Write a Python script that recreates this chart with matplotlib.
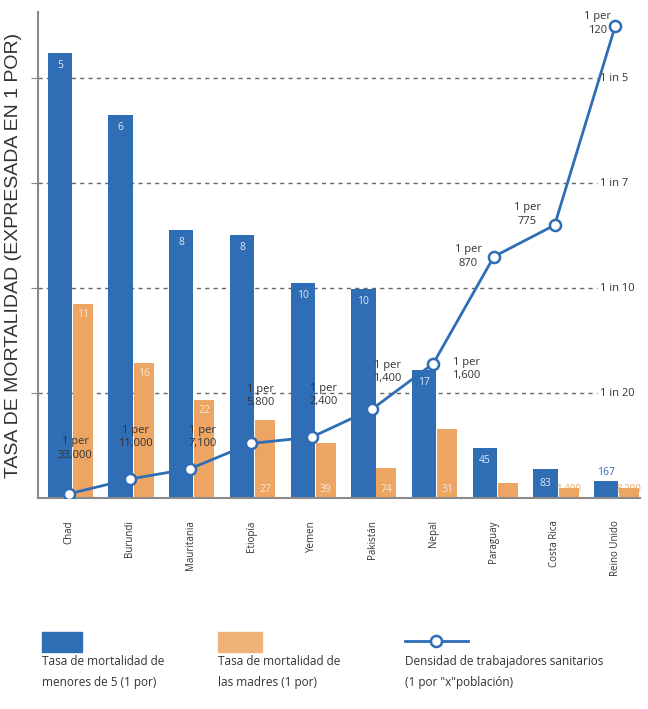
import matplotlib
matplotlib.use("Agg")
import matplotlib.pyplot as plt
from matplotlib.patches import Rectangle
from matplotlib.lines import Line2D

# bar heights / line points are read on the chart's own scale
# (grid lines: 1 = "1 in 20", 2 = "1 in 10", 3 = "1 in 7", 4 = "1 in 5")
paises = ['Chad', 'Burundi', 'Mauritania', 'Etiopía', 'Yemen', 'Pakistán',
          'Nepal', 'Paraguay', 'Costa Rica', 'Reino Unido']
ninos = [4.24, 3.65, 2.55, 2.51, 2.05, 1.99, 1.22, 0.48, 0.28, 0.16]
ninos_txt = ['5', '6', '8', '8', '10', '10', '17', '45', '83', '167']
madres = [1.85, 1.29, 0.93, 0.74, 0.52, 0.29, 0.66, 0.14, 0.10, 0.10]
madres_txt = ['11', '16', '22', '27', '39', '74', '31', '170', '1,400', '8,200']
sanitarios = [0.04, 0.18, 0.28, 0.52, 0.58, 0.85, 1.28, 2.30, 2.60, 4.50]
sanitarios_txt = ['33,000', '11,000', '7,100', '5,800', '2,400', '1,400',
                  '1,600', '870', '775', '120']
niveles = [1, 2, 3, 4]
niveles_txt = ['1 in 20', '1 in 10', '1 in 7', '1 in 5']

azul = '#2f6db5'
naranja = '#eda564'
gris = '#8a8a8a'
fuente = 'Open Sans'

fig = plt.figure(figsize=(6.48, 7.09), dpi=100)
ax = fig.add_axes([0.0586, 0.2976, 0.9294, 0.6854])

x = list(range(len(paises)))
ax.bar([i - 0.15 for i in x], ninos, width=0.40, color=azul, zorder=2)
ax.bar([i + 0.23 for i in x], madres, width=0.33, color=naranja, zorder=2)

# dashed reference lines with their labels on the right
for n, t in zip(niveles, niveles_txt):
    ax.plot([-0.51, 8.70], [n, n], ls=(0, (3, 3)), color='#666666', lw=1.0, zorder=1)
    ax.text(8.74, n, t, fontsize=8, family=fuente, color='#333333', va='center', ha='left')

# value labels in the bars
for i, (h, t) in enumerate(zip(ninos, ninos_txt)):
    if h < 0.2:
        ax.text(i - 0.15, h + 0.03, t, fontsize=7.5, family=fuente, color=azul,
                ha='center', va='bottom', zorder=4)
    elif h < 0.35:
        ax.text(i - 0.15, h / 2, t, fontsize=7.5, family=fuente, color='#dfe8f5',
                ha='center', va='center', zorder=4)
    else:
        ax.text(i - 0.15, h - 0.12, t, fontsize=7.5, family=fuente, color='#dfe8f5',
                ha='center', va='center', zorder=4)
for i, (h, t) in enumerate(zip(madres, madres_txt)):
    y = h - 0.1 if h > 0.8 else 0.08
    c = '#fbe6d2' if h > 0.2 else naranja
    ax.text(i + 0.23, y, t, fontsize=7 if len(t) > 3 else 7.5, family=fuente,
            color=c, ha='center', va='center', zorder=4)

# health worker density line
ax.plot(x, sanitarios, color=azul, lw=2, marker='o', markersize=8,
        markerfacecolor='white', markeredgecolor=azul, markeredgewidth=1.8, zorder=5)
dx = [0.1, 0.1, 0.2, 0.15, 0.2, 0.25, 0.55, -0.42, -0.45, -0.3]
dy = [0.43, 0.4, 0.3, 0.45, 0.4, 0.35, -0.05, 0.0, 0.1, 0.02]
for i, (v, t) in enumerate(zip(sanitarios, sanitarios_txt)):
    ax.text(i + dx[i], v + dy[i], '1 per\n' + t, fontsize=8, family=fuente,
            color='#333333', ha='center', va='center', linespacing=1.3, zorder=6)

ax.set_xlim(-0.51, 9.41)
ax.set_ylim(0, 4.63)
for s in ['top', 'right']:
    ax.spines[s].set_visible(False)
ax.spines['left'].set_color(gris)
ax.spines['bottom'].set_color(gris)
ax.spines['left'].set_linewidth(1.5)
ax.spines['bottom'].set_linewidth(1.5)
ax.set_yticks(niveles)
ax.set_yticklabels([])
ax.tick_params(axis='y', length=5, color=gris, direction='out')
ax.set_xticks(x)
ax.set_xticklabels(paises, rotation=90, fontsize=7, family=fuente, color='#333333')
ax.tick_params(axis='x', length=0, pad=16)
ax.set_ylabel('TASA DE MORTALIDAD (EXPRESADA EN 1 POR)', fontsize=14,
              family='Liberation Sans', color='#333333', labelpad=3)

# legend drawn under the chart
fig.patches.append(Rectangle((42 / 648, 1 - 652 / 709), 40 / 648, 20 / 709,
                             transform=fig.transFigure, color=azul))
fig.patches.append(Rectangle((218 / 648, 1 - 652 / 709), 44 / 648, 20 / 709,
                             transform=fig.transFigure, color='#f1b27a'))
fig.lines.append(Line2D([405 / 648, 468 / 648], [1 - 641 / 709] * 2, transform=fig.transFigure,
                        color=azul, lw=2, marker=None))
fig.lines.append(Line2D([436 / 648], [1 - 641 / 709], transform=fig.transFigure,
                        color=azul, marker='o', markersize=8, markerfacecolor='white',
                        markeredgewidth=1.8))
ley = [(42, 'Tasa de mortalidad de\nmenores de 5 (1 por)'),
       (218, 'Tasa de mortalidad de\nlas madres (1 por)'),
       (405, 'Densidad de trabajadores sanitarios\n(1 por "x"población)')]
for px, t in ley:
    fig.text(px / 648, 1 - 655 / 709, t, fontsize=8.5, family=fuente, color='#333333',
             ha='left', va='top', linespacing=1.8)

fig.savefig('out.png', dpi=100)
